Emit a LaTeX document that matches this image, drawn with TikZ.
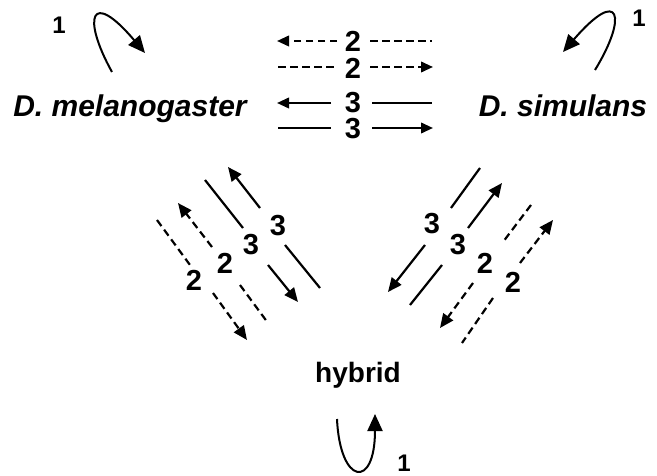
\documentclass[tikz,border=0pt]{standalone}
\usepackage{fontspec}
\setmainfont{Liberation Sans}
\usetikzlibrary{arrows.meta}
\begin{document}
\begin{tikzpicture}[x=1pt,y=-1pt,
  species/.style={font=\fontsize{30}{31}\selectfont\bfseries\itshape,inner sep=0pt,anchor=base},
  hyb/.style={font=\fontsize{28}{30}\selectfont\bfseries,inner sep=0pt,anchor=base},
  num/.style={font=\fontsize{29}{30}\selectfont\bfseries,inner sep=0pt},
  one/.style={font=\fontsize{24}{25}\selectfont\bfseries,inner sep=0pt},
  ln/.style={line width=2.2pt},
  dsh/.style={line width=2.2pt,dash pattern=on 7.5pt off 4.5pt},
  htip/.style={-{Triangle[length=12pt,width=10.5pt]}},
  dtip/.style={-{Triangle[length=14pt,width=12pt]}},
  ltip/.style={-{Triangle[length=17pt,width=15pt]}},
  loopline/.style={line width=2pt}
]
\useasboundingbox (0,0) rectangle (657,476);

% species nodes
\node[species] (mel) at (130,117) {D. melanogaster};
\node[species] (sim) at (563,117) {D. simulans};
\node[hyb] (hyb) at (358,382) {hybrid};

% loop labels
\node[one] (one1) at (59,25) {1};
\node[one] (one2) at (639,18) {1};
\node[one] (one3) at (404,463) {1};

% self loops
\coordinate (la) at (112,72); \coordinate (lb) at (145,53);
\draw[loopline,ltip] (la) .. controls (82,18) and (90,-12) .. (lb);
\coordinate (ra) at (595,70); \coordinate (rb) at (563,52);
\draw[loopline,ltip] (ra) .. controls (628,16) and (620,-14) .. (rb);
\coordinate (ba) at (337,419); \coordinate (bb) at (375,414);
\draw[loopline,ltip] (ba) .. controls (340,485) and (375,490) .. (bb);

% horizontal arrows
\node[num] (h1) at (353,41) {2};
\node[num] (h2) at (353,68) {2};
\node[num] (h3) at (353,103) {3};
\node[num] (h4) at (353,129) {3};
\coordinate (h1a) at (277,41);  \coordinate (h1b) at (337,41);
\coordinate (h1c) at (370,41);  \coordinate (h1d) at (432,41);
\draw[dsh,htip] (h1b) -- (h1a);
\draw[dsh] (h1c) -- (h1d);
\coordinate (h2a) at (278,67);  \coordinate (h2b) at (337,67);
\coordinate (h2c) at (370,67);  \coordinate (h2d) at (433,67);
\draw[dsh] (h2a) -- (h2b);
\draw[dsh,htip] (h2c) -- (h2d);
\coordinate (h3a) at (277,103); \coordinate (h3b) at (331,103);
\coordinate (h3c) at (372,103); \coordinate (h3d) at (432,103);
\draw[ln,htip] (h3b) -- (h3a);
\draw[ln] (h3c) -- (h3d);
\coordinate (h4a) at (278,128); \coordinate (h4b) at (331,128);
\coordinate (h4c) at (372,128); \coordinate (h4d) at (433,128);
\draw[ln] (h4a) -- (h4b);
\draw[ln,htip] (h4c) -- (h4d);

% left diagonal group (melanogaster - hybrid)
\node[num] (l1) at (194,280) {2};
\node[num] (l2) at (225,263) {2};
\node[num] (l3) at (251,245) {3};
\node[num] (l4) at (278,226) {3};
\coordinate (l1a) at (157,220); \coordinate (l1b) at (190,265);
\coordinate (l1c) at (213,293); \coordinate (l1d) at (247,340);
\draw[dsh] (l1a) -- (l1b);
\draw[dsh,dtip] (l1c) -- (l1d);
\coordinate (l2a) at (178,203); \coordinate (l2b) at (212,247);
\coordinate (l2c) at (240,285); \coordinate (l2d) at (268,323);
\draw[dsh,dtip] (l2b) -- (l2a);
\draw[dsh] (l2c) -- (l2d);
\coordinate (l3a) at (205,180); \coordinate (l3b) at (243,228);
\coordinate (l3c) at (268,265); \coordinate (l3d) at (298,302);
\draw[ln] (l3a) -- (l3b);
\draw[ln,dtip] (l3c) -- (l3d);
\coordinate (l4a) at (228,167); \coordinate (l4b) at (260,208);
\coordinate (l4c) at (285,245); \coordinate (l4d) at (320,288);
\draw[ln,dtip] (l4b) -- (l4a);
\draw[ln] (l4c) -- (l4d);

% right diagonal group (simulans - hybrid)
\node[num] (r1) at (432,224) {3};
\node[num] (r2) at (458,245) {3};
\node[num] (r3) at (485,263) {2};
\node[num] (r4) at (513,282) {2};
\coordinate (r1a) at (480,168); \coordinate (r1b) at (451,208);
\coordinate (r1c) at (425,245); \coordinate (r1d) at (388,292);
\draw[ln] (r1a) -- (r1b);
\draw[ln,dtip] (r1c) -- (r1d);
\coordinate (r2a) at (410,305); \coordinate (r2b) at (442,265);
\coordinate (r2c) at (468,228); \coordinate (r2d) at (502,183);
\draw[ln] (r2a) -- (r2b);
\draw[ln,dtip] (r2c) -- (r2d);
\coordinate (r3a) at (531,205); \coordinate (r3b) at (503,242);
\coordinate (r3c) at (473,283); \coordinate (r3d) at (440,328);
\draw[dsh] (r3a) -- (r3b);
\draw[dsh,dtip] (r3c) -- (r3d);
\coordinate (r4a) at (553,220); \coordinate (r4b) at (520,263);
\coordinate (r4c) at (493,298); \coordinate (r4d) at (462,343);
\draw[dsh,dtip] (r4b) -- (r4a);
\draw[dsh] (r4c) -- (r4d);
\end{tikzpicture}
\end{document}
